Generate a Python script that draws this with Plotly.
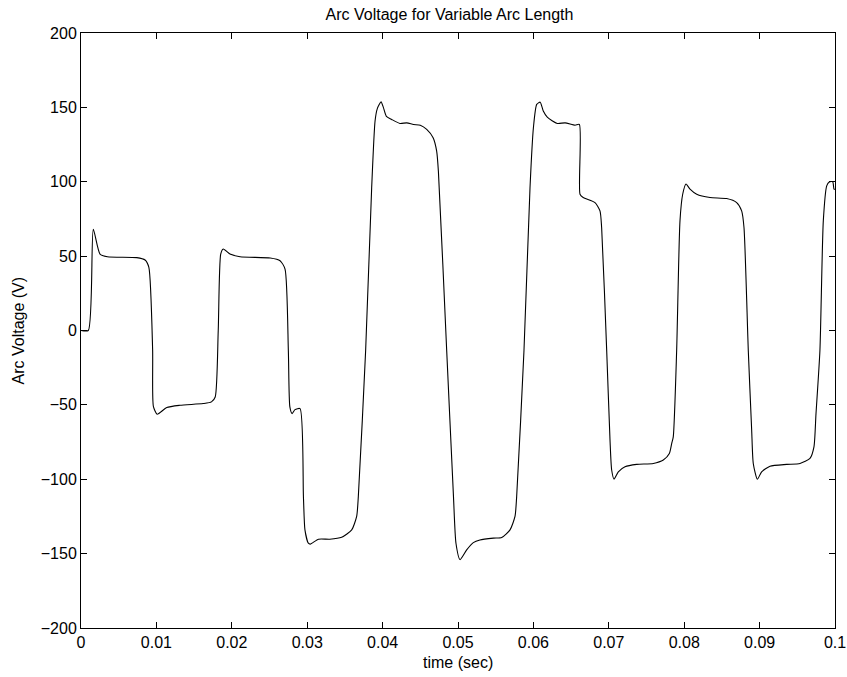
import plotly.graph_objects as go

time_s = [0.0, 0.00097, 0.00163, 0.00252, 0.0035, 0.0074, 0.0085, 0.009, 0.0095,
          0.0096, 0.0101, 0.01137, 0.0131, 0.0162, 0.0173, 0.0178, 0.0182,
          0.01853, 0.01887, 0.01976, 0.0211, 0.0251, 0.0264, 0.02706, 0.0275,
          0.0277, 0.0280, 0.02838, 0.02905, 0.0295, 0.0297, 0.03015, 0.0304,
          0.0315, 0.033, 0.03457, 0.0359, 0.03656, 0.03678, 0.03775,
          0.03855, 0.039, 0.0393, 0.0398, 0.0401, 0.0405, 0.0412, 0.0423,
          0.0432, 0.0441, 0.045, 0.04585, 0.0467, 0.04717, 0.0474, 0.0485,
          0.0494, 0.04973, 0.05027, 0.05115, 0.05203, 0.0529, 0.0547, 0.0558,
          0.0569, 0.05756, 0.05778, 0.05875, 0.05955, 0.06, 0.06044, 0.0609,
          0.06131, 0.06184, 0.06317, 0.0642, 0.06552, 0.0661, 0.06618, 0.0666,
          0.06817, 0.06883, 0.06905, 0.06972, 0.07016, 0.07038, 0.07069,
          0.07126, 0.07215, 0.0737, 0.0759, 0.07723, 0.07803, 0.07834,
          0.07855, 0.079, 0.07944, 0.0798, 0.08024, 0.08077, 0.08166, 0.08342,
          0.08563, 0.08696, 0.08762, 0.08793, 0.0885, 0.08895, 0.08916,
          0.0897, 0.09027, 0.09138, 0.09359, 0.09536, 0.09668, 0.09721,
          0.09748, 0.098, 0.09845, 0.0989, 0.09924, 0.0997, 0.09987, 0.1]
arc_voltage = [0, 0, 68, 51.4, 49.6, 49, 47.4, 42.4, -13,
               -51, -56.3, -51.8, -50.3, -49.1, -48, -44.7, 0,
               51.4, 54.8, 51.4, 49.6, 48.7, 46.9, 41.3, -13.4,
               -51.4, -55.9, -53.2, -52.5, -111.7, -134, -143, -143.6,
               -140.3, -140.3, -139, -134, -125, -111.7, -13.4,
               96, 140.8, 149.2, 153.7, 150, 144, 141.9, 139.2,
               139.6, 138.5, 138, 135.2, 129.6, 120.6, 107, -13.4,
               -111.7, -143, -154, -147.5, -142.6, -140.8, -139.6, -139.2,
               -134, -125, -111.7, -13.4, 96, 136.3, 152, 153.5,
               147.5, 143.4, 139.2, 139.6, 138, 138.5, 91.6, 89.4,
               86, 80.4, 69.2, -13.4, -73.7, -93.8, -99.9,
               -95, -91.6, -90, -89.4, -87.1, -82.7, -76,
               -71.5, -13.4, 73.7, 91.6, 98.5, 95, 91.6, 89.4,
               88.7, 86, 80.4, 69.2, -13.4, -67, -89.4,
               -100, -95, -91.2, -90, -89.4, -86, -78.2,
               -55.9, -13.4, 73.7, 97.2, 99.9, 100, 95, 95]

x_ticks = [0, 0.01, 0.02, 0.03, 0.04, 0.05, 0.06, 0.07, 0.08, 0.09, 0.1]
x_labels = ["0", "0.01", "0.02", "0.03", "0.04", "0.05", "0.06", "0.07", "0.08", "0.09", "0.1"]
y_ticks = [-200, -150, -100, -50, 0, 50, 100, 150, 200]

fig = go.Figure()
fig.add_trace(go.Scatter(x=time_s, y=arc_voltage, mode="lines",
                         line=dict(color="black", width=1.1), line_shape="spline",
                         line_smoothing=0.6, hoverinfo="skip"))

font = dict(family="Liberation Sans, Arial, Helvetica, sans-serif", size=16, color="black")
fig.update_layout(
    width=847, height=677,
    margin=dict(l=81, r=12, t=33, b=49, autoexpand=False),
    paper_bgcolor="white", plot_bgcolor="white",
    showlegend=False,
    font=font,
    title=dict(text="Arc Voltage for Variable Arc Length", x=449.5 / 847,
               xanchor="center", xref="container",
               y=1 - 14 / 677, yanchor="middle", font=font),
)
fig.update_xaxes(range=[0, 0.1], tickvals=x_ticks, ticktext=x_labels,
                 showgrid=False, zeroline=False, showline=True, linecolor="black",
                 linewidth=1, mirror="ticks", ticks="inside", ticklen=6,
                 tickcolor="black", tickfont=font, automargin=False)
fig.update_yaxes(range=[-200, 200], tickvals=y_ticks,
                 showgrid=False, zeroline=False, showline=True, linecolor="black",
                 linewidth=1, mirror="ticks", ticks="inside", ticklen=6,
                 tickcolor="black", tickfont=font, automargin=False)

fig.add_annotation(text="time (sec)", xref="paper", yref="paper",
                   x=0.5, y=-(662 - 628) / 595, xanchor="center", yanchor="middle",
                   showarrow=False, font=font)
fig.add_annotation(text="Arc Voltage (V)", xref="paper", yref="paper",
                   x=-(81 - 18) / 754, y=0.5, xanchor="center", yanchor="middle",
                   textangle=-90, showarrow=False, font=font)

fig.write_html("out.html")
